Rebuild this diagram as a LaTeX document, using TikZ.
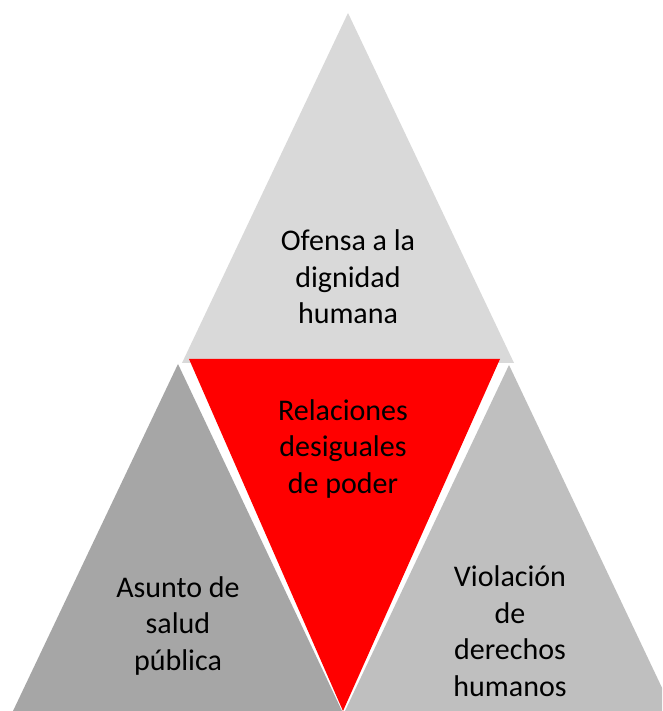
\documentclass[tikz,border=0pt]{standalone}
\usepackage{fontspec}
\setmainfont{Carlito}
\definecolor{topgray}{HTML}{D9D9D9}
\definecolor{leftgray}{HTML}{A6A6A6}
\definecolor{rightgray}{HTML}{BFBFBF}
\definecolor{redfill}{HTML}{FF0000}
\begin{document}
\begin{tikzpicture}[x=1pt,y=1pt,
  lbl/.style={align=center,text=black,font=\fontsize{30}{36.6}\selectfont,inner sep=0pt}]
\useasboundingbox[fill=white] (0,0) rectangle (662,711);
\begin{scope}
\clip (0,0) rectangle (662,711);
% top triangle
\fill[topgray] (348,698) -- (514,348) -- (182,348) -- cycle;
% left triangle
\fill[leftgray] (178,347) -- (342,0) -- (13,0) -- cycle;
% right triangle
\fill[rightgray] (509,346) -- (673,0) -- (345,0) -- cycle;
% red inverted triangle
\fill[redfill] (189,352) -- (500,352) -- (343,0) -- cycle;
\end{scope}
\node[lbl] (top) at (348,434) {Ofensa a la\\dignidad\\humana};
\node[lbl] (mid) at (343,262) {Relaciones\\desiguales\\de poder};
\node[lbl] (left) at (178,85) {Asunto de\\salud\\pública};
\node[lbl] (right) at (510,80) {Violación\\de\\derechos\\humanos};
\end{tikzpicture}
\end{document}
